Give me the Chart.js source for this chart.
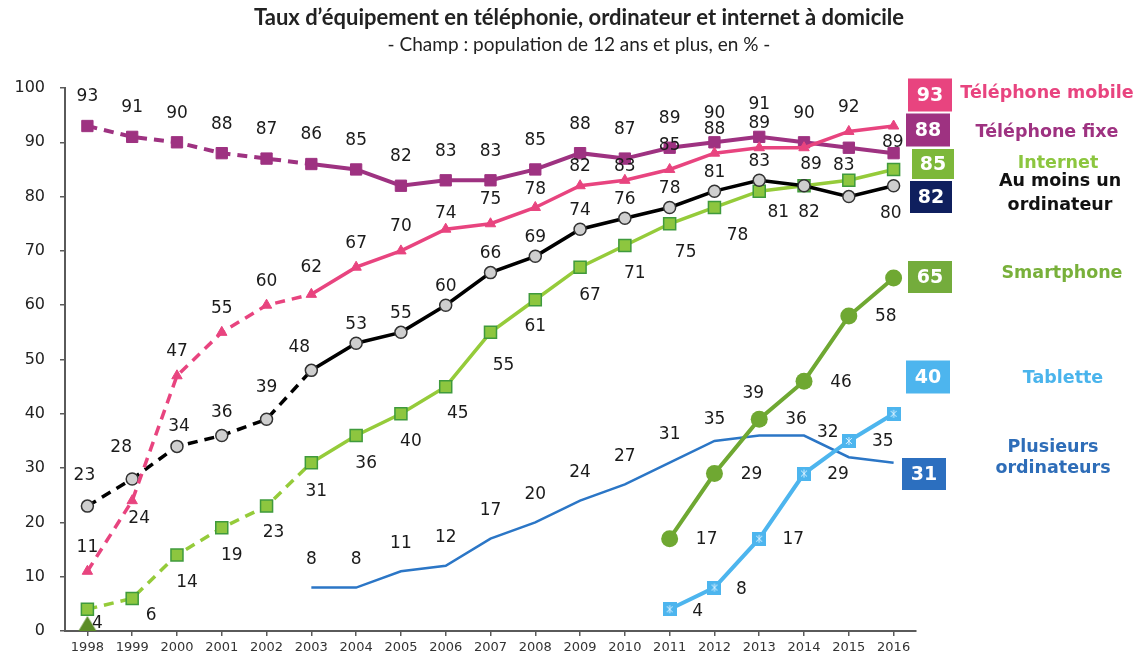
<!DOCTYPE html>
<html>
<head>
<meta charset="utf-8">
<script src="https://cdn.jsdelivr.net/npm/chart.js@4.4.0/dist/chart.umd.min.js"></script>
<style>
  html, body { margin: 0; padding: 0; background: #fff; }
  #wrap { width: 1148px; height: 660px; }
</style>
</head>
<body>
<div id="wrap"><canvas id="myChart"></canvas></div>
<script>
// DATA
const years = ['1998', '1999', '2000', '2001', '2002', '2003', '2004', '2005', '2006', '2007',
  '2008', '2009', '2010', '2011', '2012', '2013', '2014', '2015', '2016'];
const mobile = [11, 24, 47, 55, 60, 62, 67, 70, 74, 75, 78, 82, 83, 85, 88, 89, 89, 92, 93];
const fixe = [93, 91, 90, 88, 87, 86, 85, 82, 83, 83, 85, 88, 87, 89, 90, 91, 90, 89, 88];
const ordinateur = [23, 28, 34, 36, 39, 48, 53, 55, 60, 66, 69, 74, 76, 78, 81, 83, 82, 80, 82];
const internet = [4, 6, 14, 19, 23, 31, 36, 40, 45, 55, 61, 67, 71, 75, 78, 81, 82, 83, 85];
const smartphone = [null, null, null, null, null, null, null, null, null, null, null, null, null,
  17, 29, 39, 46, 58, 65];
const tablette = [null, null, null, null, null, null, null, null, null, null, null, null, null,
  4, 8, 17, 29, 35, 40];
const plusieurs = [null, null, null, null, null, 8, 8, 11, 12, 17, 20, 24, 27, 31, 35, 36, 36, 32, 31];
const repere = [0, null, null, null, null, null, null, null, null, null, null, null, null,
  null, null, null, null, null, null];

const DASH_UNTIL = 5; // dashed up to 2003

// tablet marker: square with small asterisk
function starSquare() {
  const c = document.createElement('canvas');
  c.width = 14; c.height = 14;
  const g = c.getContext('2d');
  g.fillStyle = '#4DB5EE';
  g.fillRect(0, 0, 14, 14);
  g.strokeStyle = '#d8f0ff';
  g.lineWidth = 1;
  g.beginPath();
  g.moveTo(7, 3); g.lineTo(7, 11);
  g.moveTo(4, 4); g.lineTo(10, 10);
  g.moveTo(10, 4); g.lineTo(4, 10);
  g.stroke();
  return c;
}

// triangle sitting on the point (image is centred on the point)
function baseTriangle() {
  const c = document.createElement('canvas');
  c.width = 20; c.height = 32;
  const g = c.getContext('2d');
  g.fillStyle = '#5B8C26';
  g.beginPath();
  g.moveTo(10, 1); g.lineTo(19, 16); g.lineTo(1, 16);
  g.closePath();
  g.fill();
  return c;
}

const dashed = ctx => ctx.p1DataIndex <= DASH_UNTIL ? [10, 7] : [];

const data = {
  labels: years,
  datasets: [
    {
      label: 'Téléphone mobile', data: mobile,
      borderColor: '#E8447F', backgroundColor: '#E8447F', borderWidth: 3.5,
      pointStyle: 'triangle', pointRadius: 6, pointBorderWidth: 1,
      segment: { borderDash: dashed },
      labelPos: { def: [0, -24], at: { 1: [7, 18], 5: [0, -27], 8: [0, -16], 10: [0, -18], 11: [0, -19], 12: [0, -14], 16: [7, 17] }, hide: [18] },
    },
    {
      label: 'Téléphone fixe', data: fixe,
      borderColor: '#9E3281', backgroundColor: '#9E3281', borderWidth: 4,
      pointStyle: 'rect', pointRadius: 8, pointBorderWidth: 1,
      segment: { borderDash: dashed },
      labelPos: { def: [0, -29], at: { 15: [0, -32], 17: [44, -5] }, hide: [18] },
    },
    {
      label: 'Au moins un ordinateur', data: ordinateur,
      borderColor: '#000000', backgroundColor: '#CFCFCF', borderWidth: 3.5,
      pointStyle: 'circle', pointRadius: 6, pointBorderColor: '#333', pointBorderWidth: 1.5,
      segment: { borderDash: dashed },
      labelPos: { def: [0, -19], at: { 0: [-3, -31], 1: [-11, -31], 2: [2, -20], 3: [0, -23], 4: [0, -32], 5: [-12, -23], 17: [42, 17] }, hide: [16, 18] },
    },
    {
      label: 'Internet', data: internet,
      borderColor: '#95CB3A', backgroundColor: '#8DC63F', borderWidth: 3.5,
      pointStyle: 'rect', pointRadius: 8.5, pointBorderColor: '#3F9A3C', pointBorderWidth: 1.5,
      segment: { borderDash: dashed },
      labelPos: { def: [10, 28], at: { 0: [10, 14], 1: [19, 17], 4: [7, 26], 5: [5, 29], 8: [12, 27], 9: [13, 33], 10: [0, 27], 13: [16, 29], 14: [23, 28], 15: [19, 21], 16: [5, 27], 17: [-5, -15] }, hide: [18] },
    },
    {
      label: 'Smartphone', data: smartphone,
      borderColor: '#6FA832', backgroundColor: '#6FA832', borderWidth: 4,
      pointStyle: 'circle', pointRadius: 8.5, pointBorderWidth: 0,
      labelPos: { def: [37, 1], at: { 15: [-6, -26] }, hide: [18] },
    },
    {
      label: 'Tablette', data: tablette,
      borderColor: '#4DB5EE', backgroundColor: '#4DB5EE', borderWidth: 4,
      pointStyle: starSquare(), pointRadius: 7,
      labelPos: { def: [34, 1], at: { 13: [28, 2], 14: [27, 2] }, hide: [18] },
    },
    {
      label: 'Plusieurs ordinateurs', data: plusieurs,
      borderColor: '#2B76C6', backgroundColor: '#2B76C6', borderWidth: 2.5,
      pointRadius: 0, pointHoverRadius: 0,
      labelPos: { def: [0, -28], at: { 14: [0, -21], 16: [-8, -16], 17: [-21, -25] }, hide: [15, 18] },
    },
    {
      label: 'repère', data: repere, clip: false,
      borderColor: '#5B8C26', backgroundColor: '#5B8C26', borderWidth: 0,
      pointStyle: baseTriangle(), pointRadius: 10,
    },
  ],
};

// value labels next to points
const valueLabels = {
  id: 'valueLabels',
  afterDatasetsDraw(chart) {
    const ctx = chart.ctx;
    ctx.save();
    ctx.font = '17px "DejaVu Sans"';
    ctx.fillStyle = '#1b1b1b';
    ctx.textAlign = 'center';
    ctx.textBaseline = 'middle';
    chart.data.datasets.forEach((ds, i) => {
      const cfg = ds.labelPos;
      if (!cfg) return;
      chart.getDatasetMeta(i).data.forEach((pt, j) => {
        const v = ds.data[j];
        if (v === null || cfg.hide.includes(j)) return;
        const o = cfg.at[j] || cfg.def;
        ctx.fillText(String(v), pt.x + o[0], pt.y + o[1]);
      });
    });
    ctx.restore();
  }
};

// last-value boxes and series names on the right, plus titles
const last = arr => arr[arr.length - 1];
const sideNotes = {
  id: 'sideNotes',
  afterDraw(chart) {
    const ctx = chart.ctx;
    ctx.save();
    ctx.textAlign = 'center';
    ctx.textBaseline = 'middle';

    ctx.fillStyle = '#222';
    ctx.font = 'bold 22px Lato';
    ctx.fillText('Taux d\u2019équipement en téléphonie, ordinateur et internet à domicile', 579, 18);
    ctx.font = '19px Lato';
    ctx.fillText('- Champ : population de 12 ans et plus, en % -', 579, 45);

    const boxes = [
      [last(mobile), '#E8447F', 930, 95, 44, 33],
      [last(fixe), '#9E3281', 928, 130, 44, 33],
      [last(internet), '#7DB83A', 933, 164, 42, 30],
      [last(ordinateur), '#0F1F5E', 931, 197, 42, 32],
      [last(smartphone), '#74AC3C', 930, 277, 44, 32],
      [last(tablette), '#4DB5EE', 928, 377, 44, 33],
      [last(plusieurs), '#2C6FBF', 924, 474, 44, 32],
    ];
    ctx.font = 'bold 19px "DejaVu Sans"';
    boxes.forEach(([v, col, cx, cy, w, h]) => {
      ctx.fillStyle = col;
      ctx.fillRect(cx - w / 2, cy - h / 2, w, h);
      ctx.fillStyle = '#fff';
      ctx.fillText(String(v), cx, cy + 1);
    });

    const names = [
      [['Téléphone mobile'], '#E8447F', 1047, 93, 0],
      [['Téléphone fixe'], '#9E3281', 1047, 132, 0],
      [['Internet'], '#8CC63F', 1058, 163, 0],
      [['Au moins un', 'ordinateur'], '#111111', 1060, 181, 24],
      [['Smartphone'], '#78B03A', 1062, 273, 0],
      [['Tablette'], '#4AB4EC', 1063, 378, 0],
      [['Plusieurs', 'ordinateurs'], '#2E6DB8', 1053, 447, 21],
    ];
    ctx.font = 'bold 17.5px "DejaVu Sans"';
    names.forEach(([lines, col, x, y, lh]) => {
      ctx.fillStyle = col;
      lines.forEach((t, k) => ctx.fillText(t, x, y + k * lh));
    });
    ctx.restore();
  }
};

const config = {
  type: 'line',
  data: data,
  options: {
    responsive: true,
    maintainAspectRatio: false,
    animation: false,
    layout: { padding: { top: 88, right: 232, bottom: 0, left: 0 } },
    plugins: {
      legend: { display: false },
      tooltip: { enabled: false },
    },
    elements: { line: { tension: 0 } },
    scales: {
      x: {
        offset: true,
        grid: { display: true, drawOnChartArea: false, drawTicks: true, tickLength: 5, color: '#5a5a5a', lineWidth: 1.5 },
        border: { display: true, color: '#5a5a5a', width: 2 },
        ticks: { font: { family: 'DejaVu Sans', size: 13 }, color: '#333', padding: 4, autoSkip: false, maxRotation: 0 },
        afterFit: s => { s.height = 29; },
      },
      y: {
        min: 0, max: 100,
        grid: { display: true, drawOnChartArea: false, drawTicks: true, tickLength: 5, color: '#5a5a5a', lineWidth: 1.5 },
        border: { display: true, color: '#5a5a5a', width: 2 },
        ticks: { stepSize: 10, font: { family: 'DejaVu Sans', size: 16 }, color: '#222', padding: 15 },
        afterFit: s => { s.width = 65; },
      },
    },
  },
  plugins: [valueLabels, sideNotes],
};

const myChart = new Chart('myChart', config);
</script>
</body>
</html>
